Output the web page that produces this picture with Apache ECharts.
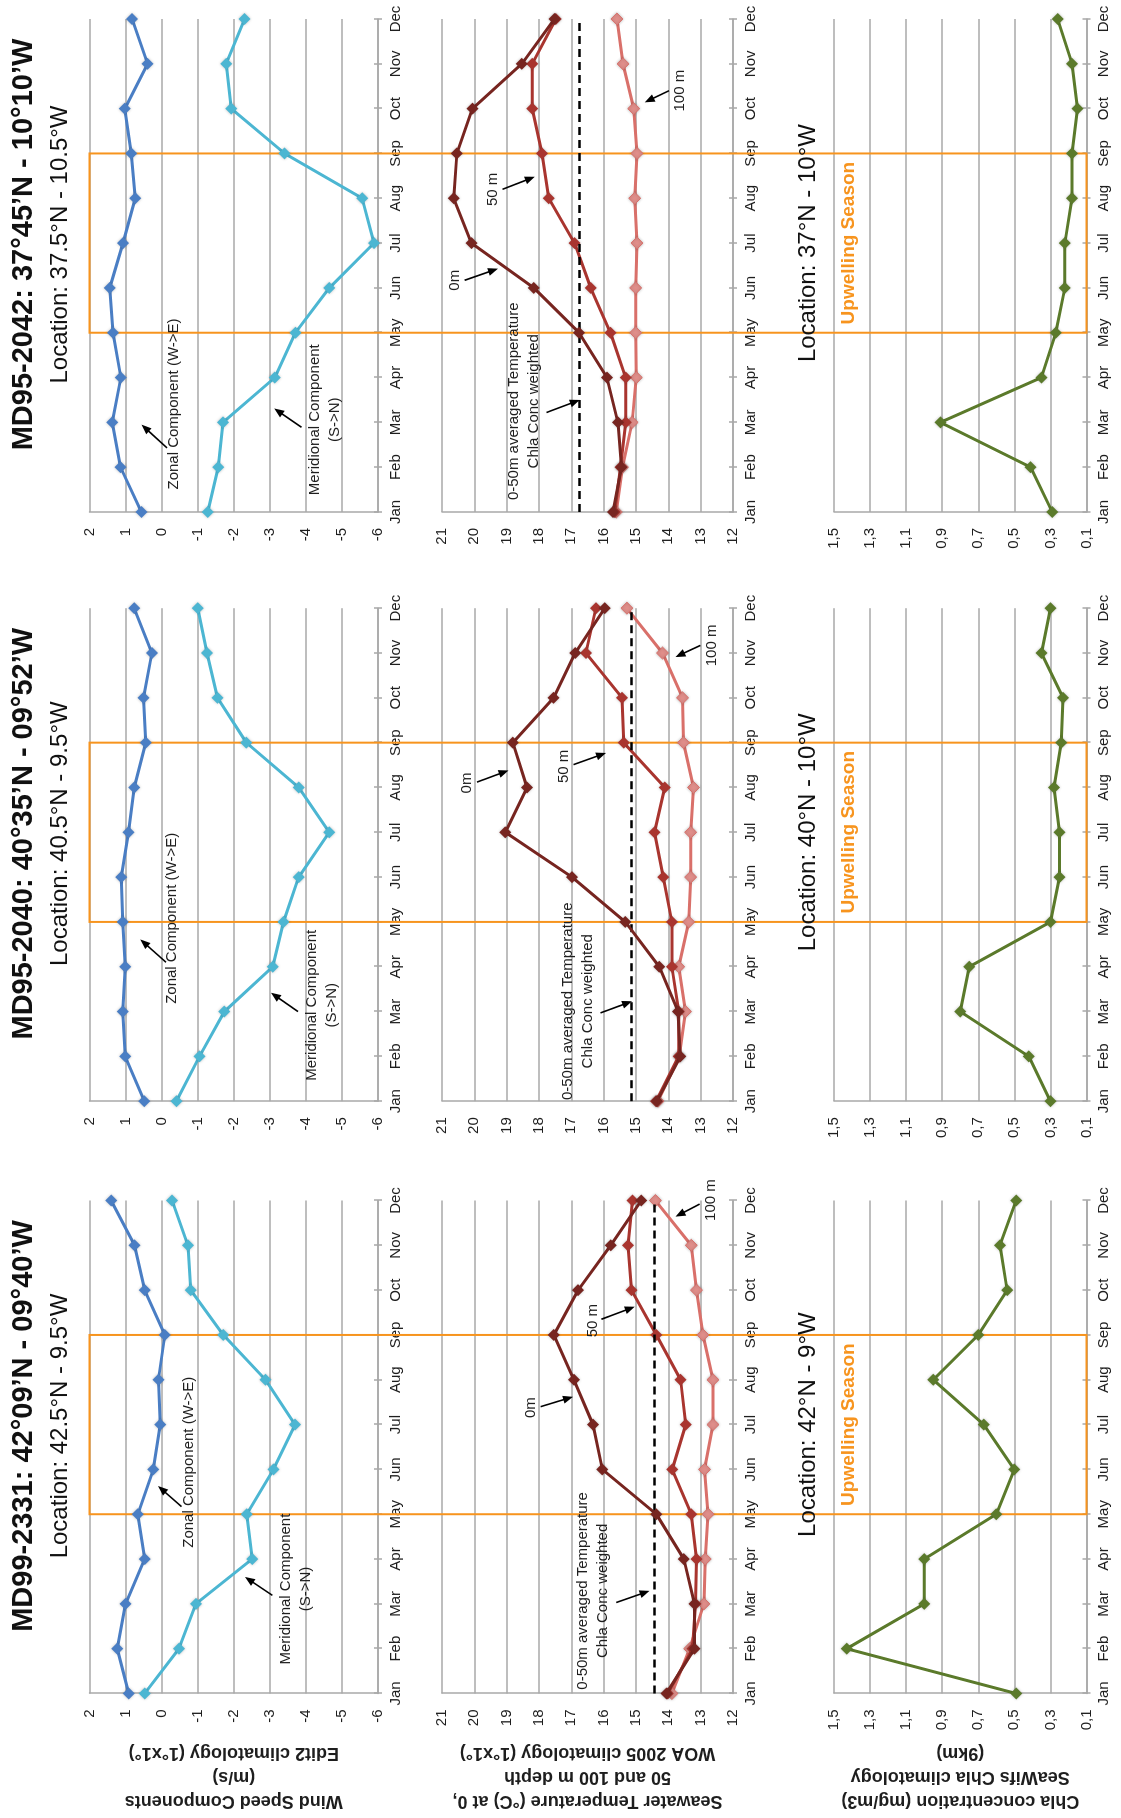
<!DOCTYPE html>
<html>
<head>
<meta charset="utf-8">
<script src="https://cdn.jsdelivr.net/npm/echarts/dist/echarts.min.js"></script>
<style>
  html, body { margin: 0; padding: 0; overflow: hidden; background: #ffffff; width: 1121px; height: 1818px; }
  /* the figure is laid out landscape and turned a quarter turn counter-clockwise */
  #chart { position: absolute; left: 0; top: 0; width: 1818px; height: 1121px;
           transform-origin: 0 0; transform: translate(0, 1818px) rotate(-90deg); }
</style>
</head>
<body>
<div id="chart"></div>
<script>
// ---- data -------------------------------------------------------------
const MONTHS = ['Jan','Feb','Mar','Apr','May','Jun','Jul','Aug','Sep','Oct','Nov','Dec'];
const UPWELLING = ['May', 'Sep'];

// MD99-2331 (42.5N 9.5W)
const zonal2331  = [0.91, 1.23, 1.00, 0.47, 0.66, 0.23, 0.04, 0.09, -0.09, 0.47, 0.75, 1.40];
const merid2331  = [0.47, -0.48, -0.95, -2.51, -2.36, -3.10, -3.70, -2.88, -1.71, -0.81, -0.73, -0.29];
const t0m2331    = [14.06, 13.19, 13.19, 13.52, 14.37, 16.04, 16.33, 16.92, 17.54, 16.79, 15.78, 14.84];
const t50m2331   = [14.02, 13.25, 13.16, 13.13, 13.29, 13.88, 13.46, 13.62, 14.37, 15.14, 15.25, 15.11];
const t100m2331  = [13.89, 13.34, 12.90, 12.86, 12.77, 12.88, 12.62, 12.62, 12.93, 13.13, 13.29, 14.40];
const tAvg2331   = 14.45;
const chla2331   = [0.49, 1.43, 1.00, 1.00, 0.60, 0.50, 0.67, 0.95, 0.70, 0.54, 0.58, 0.49];

// MD95-2040 (40.5N 9.5W)
const zonal2040  = [0.48, 1.01, 1.08, 1.01, 1.08, 1.12, 0.92, 0.76, 0.44, 0.50, 0.27, 0.76];
const merid2040  = [-0.41, -1.05, -1.74, -3.08, -3.38, -3.80, -4.65, -3.80, -2.35, -1.55, -1.26, -1.00];
const t0m2040    = [14.35, 13.63, 13.70, 14.28, 15.33, 16.98, 19.04, 18.37, 18.81, 17.55, 16.88, 15.97];
const t50m2040   = [14.38, 13.68, 13.68, 13.89, 13.89, 14.16, 14.43, 14.11, 15.38, 15.43, 16.55, 16.24];
const t100m2040  = [14.32, 13.66, 13.47, 13.68, 13.37, 13.31, 13.31, 13.22, 13.53, 13.56, 14.18, 15.28];
const tAvg2040   = 15.14;
const chla2040   = [0.30, 0.42, 0.80, 0.75, 0.30, 0.25, 0.25, 0.28, 0.24, 0.23, 0.35, 0.30];

// MD95-2042 (37.5N 10.5W)
const zonal2042  = [0.56, 1.14, 1.37, 1.13, 1.35, 1.44, 1.07, 0.73, 0.84, 1.02, 0.39, 0.82];
const merid2042  = [-1.28, -1.57, -1.70, -3.14, -3.71, -4.65, -5.89, -5.56, -3.41, -1.93, -1.79, -2.30];
const t0m2042    = [15.71, 15.45, 15.56, 15.90, 16.76, 18.16, 20.09, 20.64, 20.54, 20.06, 18.53, 17.52];
const t50m2042   = [15.66, 15.48, 15.32, 15.32, 15.79, 16.40, 16.90, 17.70, 17.91, 18.21, 18.21, 17.48];
const t100m2042  = [15.61, 15.42, 15.12, 14.99, 15.01, 15.01, 14.97, 15.04, 14.97, 15.07, 15.40, 15.59];
const tAvg2042   = 16.74;
const chla2042   = [0.29, 0.41, 0.91, 0.35, 0.27, 0.22, 0.22, 0.18, 0.18, 0.15, 0.18, 0.26];

const CORES = [
  { title: 'MD99-2331: 42°09’N - 09°40’W', loc: 'Location: 42.5°N - 9.5°W', chlaLoc: 'Location: 42°N - 9°W',
    zonal: zonal2331, merid: merid2331, t0: t0m2331, t50: t50m2331, t100: t100m2331, tAvg: tAvg2331, chla: chla2331 },
  { title: 'MD95-2040: 40°35’N - 09°52’W', loc: 'Location: 40.5°N - 9.5°W', chlaLoc: 'Location: 40°N - 10°W',
    zonal: zonal2040, merid: merid2040, t0: t0m2040, t50: t50m2040, t100: t100m2040, tAvg: tAvg2040, chla: chla2040 },
  { title: 'MD95-2042: 37°45’N - 10°10’W', loc: 'Location: 37.5°N - 10.5°W', chlaLoc: 'Location: 37°N - 10°W',
    zonal: zonal2042, merid: merid2042, t0: t0m2042, t50: t50m2042, t100: t100m2042, tAvg: tAvg2042, chla: chla2042 }
];

// ---- layout & style ---------------------------------------------------
const FONT = "'Liberation Sans', Arial, sans-serif";
const GRAY = '#a8a8a8';
const TXT = '#1e1e1e';
const ORANGE = '#f7941e';
const C_ZONAL = '#4a7ec4', C_MERID = '#4cb6d2';
const C_T0 = '#772520', C_T50 = '#a9352f', C_T100 = '#d9706a';
const C_CHLA = '#5b7a2b';

const COL_LEFT = [124.5, 716.8, 1306];
const COL_WIDTH = 493;
const ROWS = [ { top: 89.5, height: 288.5 }, { top: 442, height: 291 }, { top: 834, height: 252.5 } ];

const AXIS_NAMES = [
  'Wind Speed Components\n(m/s)\nEdit2 climatology (1°x1°)',
  'Seawater Temperature (°C) at 0,\n50 and 100 m depth\nWOA 2005 climatology (1°x1°)',
  'Chla concentration (mg/m3)\nSeaWifs Chla climatology\n(9km)'
];

const ZON = 'Zonal Component (W->E)';
const MER = 'Meridional Component\n(S->N)';
const AVG = '0-50m averaged Temperature\nChla Conc weighted';
// callouts: panel, text, text centre [month index, value], arrow [tail, head]
const NOTES = [
  { g: 0, text: ZON, at: [5.16, -0.75], arrow: [[4.17, -0.55], [4.63, 0.10]] },
  { g: 0, text: MER, at: [2.33, -3.71], arrow: [[2.19, -3.07], [2.60, -2.31]] },
  { g: 1, text: '0m', at: [6.38, 18.24], arrow: [[6.40, 17.95], [6.62, 16.95]] },
  { g: 1, text: '50 m', at: [8.32, 16.33], arrow: [[8.35, 16.07], [8.63, 15.04]] },
  { g: 1, text: '100 m', at: [11.01, 12.67], arrow: [[10.92, 13.03], [10.64, 13.78]] },
  { g: 1, text: AVG, at: [2.29, 16.33], arrow: [[2.03, 15.61], [2.29, 14.58]] },
  { g: 3, text: ZON, at: [4.08, -0.28], arrow: [[3.10, -0.12], [3.61, 0.59]] },
  { g: 3, text: MER, at: [2.14, -4.45], arrow: [[2.00, -3.78], [2.42, -3.03]] },
  { g: 4, text: '0m', at: [7.10, 20.23], arrow: [[7.12, 19.92], [7.38, 18.94]] },
  { g: 4, text: '50 m', at: [7.47, 17.22], arrow: [[7.51, 16.93], [7.77, 15.93]] },
  { g: 4, text: '100 m', at: [10.17, 12.65], arrow: [[10.17, 13.01], [9.91, 13.78]] },
  { g: 4, text: AVG, at: [2.23, 16.81], arrow: [[1.97, 16.10], [2.23, 15.12]] },
  { g: 6, text: ZON, at: [2.41, -0.34], arrow: [[1.43, -0.15], [1.95, 0.56]] },
  { g: 6, text: MER, at: [2.06, -4.52], arrow: [[1.89, -3.88], [2.31, -3.12]] },
  { g: 7, text: '0m', at: [5.17, 20.61], arrow: [[5.17, 20.30], [5.43, 19.27]] },
  { g: 7, text: '50 m', at: [7.20, 19.42], arrow: [[7.20, 19.13], [7.48, 18.13]] },
  { g: 7, text: '100 m', at: [9.40, 13.65], arrow: [[9.40, 13.98], [9.14, 14.73]] },
  { g: 7, text: AVG, at: [2.47, 18.48], arrow: [[2.22, 17.77], [2.50, 16.74]] }
];

// ---- option -----------------------------------------------------------
const grids = [], xPrimary = [], xInner = [], yAxes = [], series = [];
const axisLine = { lineStyle: { color: GRAY, width: 1.5 } };
const labelStyle = { fontSize: 15, fontFamily: FONT, color: TXT };

function lineSeries(g, data, color, z, extra) {
  return Object.assign({
    type: 'line', xAxisIndex: g, yAxisIndex: g, data: data,
    symbol: 'diamond', symbolSize: 12, showSymbol: true, silent: true, z: z,
    lineStyle: { color: color, width: 3 },
    itemStyle: { color: color, shadowBlur: 3, shadowColor: 'rgba(0,0,0,0.25)' }
  }, extra || {});
}

CORES.forEach((core, c) => {
  for (let p = 0; p < 3; p++) {
    const g = c * 3 + p;
    grids.push({ left: COL_LEFT[c], top: ROWS[p].top, width: COL_WIDTH, height: ROWS[p].height });
    xPrimary.push({
      type: 'category', gridIndex: g, data: MONTHS, boundaryGap: false, position: 'bottom',
      axisLine: Object.assign({ onZero: false }, axisLine),
      axisTick: { show: true, length: 4, lineStyle: { color: GRAY, width: 1.5 } },
      axisLabel: Object.assign({ interval: 0, margin: 10 }, labelStyle),
      splitLine: { show: false }
    });
    xInner.push({
      type: 'category', gridIndex: g, data: MONTHS, boundaryGap: false, position: 'bottom',
      axisLine: { show: false, onZero: false },
      axisTick: { show: true, inside: true, length: 4, lineStyle: { color: GRAY, width: 1.5 } },
      axisLabel: { show: false }, splitLine: { show: false }
    });
    const y = {
      type: 'value', gridIndex: g,
      axisLine: Object.assign({ show: true }, axisLine),
      axisTick: { show: false },
      splitLine: { show: true, lineStyle: { color: GRAY, width: 1.5 } },
      axisLabel: Object.assign({ margin: 16 }, labelStyle)
    };
    if (p === 0) Object.assign(y, { min: -6, max: 2, interval: 1 });
    if (p === 1) Object.assign(y, { min: 12, max: 21, interval: 1 });
    if (p === 2) {
      Object.assign(y, { min: 0.1, max: 1.5, interval: 0.1 });
      y.splitLine.lineStyle.color = [GRAY, 'rgba(0,0,0,0)'];
      y.axisLabel.formatter = v => {
        const t = Math.round(v * 10);
        return t % 2 === 1 ? (t / 10).toFixed(1).replace('.', ',') : '';
      };
    }
    if (c === 0) {
      Object.assign(y, {
        name: AXIS_NAMES[p], nameLocation: 'middle', nameRotate: 90, nameGap: 47,
        nameTextStyle: { fontSize: 18, fontWeight: 'bold', fontFamily: FONT, color: TXT, lineHeight: 24 }
      });
    }
    yAxes.push(y);
  }
  const gw = c * 3, gt = c * 3 + 1, gc = c * 3 + 2;
  series.push(lineSeries(gw, core.merid, C_MERID, 3));
  series.push(lineSeries(gw, core.zonal, C_ZONAL, 4));
  series.push(lineSeries(gt, core.t100, C_T100, 3, { itemStyle: { color: '#e08e8a', borderColor: C_T100, borderWidth: 1, shadowBlur: 3, shadowColor: 'rgba(0,0,0,0.25)' } }));
  series.push(lineSeries(gt, core.t50, C_T50, 4));
  series.push(lineSeries(gt, core.t0, C_T0, 5, {
    markLine: {
      silent: true, symbol: 'none', label: { show: false }, animation: false,
      lineStyle: { color: '#000', width: 2.5, type: [8, 5] },
      data: [{ yAxis: core.tAvg }]
    }
  }));
  series.push(lineSeries(gc, core.chla, C_CHLA, 3));
});

// inner tick axes come after the 9 primary axes; series use the primary ones
const chart = echarts.init(document.getElementById('chart'), null, { renderer: 'canvas' });
chart.setOption({
  animation: false,
  backgroundColor: '#ffffff',
  grid: grids,
  xAxis: xPrimary.concat(xInner),
  yAxis: yAxes,
  series: series
});

// ---- overlays placed through the axes ---------------------------------
function px(g, m) {
  const a = chart.convertToPixel({ xAxisIndex: g }, MONTHS[0]);
  const b = chart.convertToPixel({ xAxisIndex: g }, MONTHS[11]);
  return a + (b - a) * m / 11;
}
function py(g, v) { return chart.convertToPixel({ yAxisIndex: g }, v); }

function textEl(x, y, text, font, fill, z) {
  return { type: 'text', x: x, y: y, z: z || 20, silent: true,
    style: { text: text, font: font, fill: fill, textAlign: 'center', textVerticalAlign: 'middle',
             align: 'center', verticalAlign: 'middle', lineHeight: 20 } };
}
function arrowEls(x1, y1, x2, y2) {
  const dx = x2 - x1, dy = y2 - y1, len = Math.hypot(dx, dy);
  const ux = dx / len, uy = dy / len, L = 10, W = 4;
  const bx = x2 - ux * L, by = y2 - uy * L;
  return [
    { type: 'line', z: 20, silent: true, shape: { x1: x1, y1: y1, x2: bx + ux * 2, y2: by + uy * 2 },
      style: { stroke: '#000', lineWidth: 1.6 } },
    { type: 'polygon', z: 20, silent: true,
      shape: { points: [[x2, y2], [bx - uy * W, by + ux * W], [bx + uy * W, by - ux * W]] },
      style: { fill: '#000' } }
  ];
}

const els = [];
CORES.forEach((core, c) => {
  const gw = c * 3, gc = c * 3 + 2;
  const xa = px(gw, MONTHS.indexOf(UPWELLING[0]));
  const xb = px(gw, MONTHS.indexOf(UPWELLING[1]));
  const yTop = py(gw, 2), yBot = py(gc, 0.1);
  els.push({ type: 'rect', z: 1, silent: true,
    shape: { x: xa, y: yTop, width: xb - xa, height: yBot - yTop },
    style: { fill: 'none', stroke: ORANGE, lineWidth: 2 } });
  const cx = (px(gw, 0) + px(gw, 11)) / 2 + 21;
  els.push(textEl(cx, 24, core.title, 'bold 29px ' + FONT, '#111'));
  els.push(textEl(cx, 60, core.loc, '24px ' + FONT, '#111'));
  els.push(textEl(px(gc, 6), py(gc, 1.642), core.chlaLoc, '24px ' + FONT, '#111'));
  els.push(textEl(px(gc, 6), py(gc, 1.417), 'Upwelling Season', 'bold 19px ' + FONT, ORANGE));
});
NOTES.forEach(n => {
  els.push(textEl(px(n.g, n.at[0]), py(n.g, n.at[1]), n.text, '15px ' + FONT, TXT));
  const [t, h] = n.arrow;
  arrowEls(px(n.g, t[0]), py(n.g, t[1]), px(n.g, h[0]), py(n.g, h[1])).forEach(e => els.push(e));
});
chart.setOption({ graphic: { elements: els } });
</script>
</body>
</html>
